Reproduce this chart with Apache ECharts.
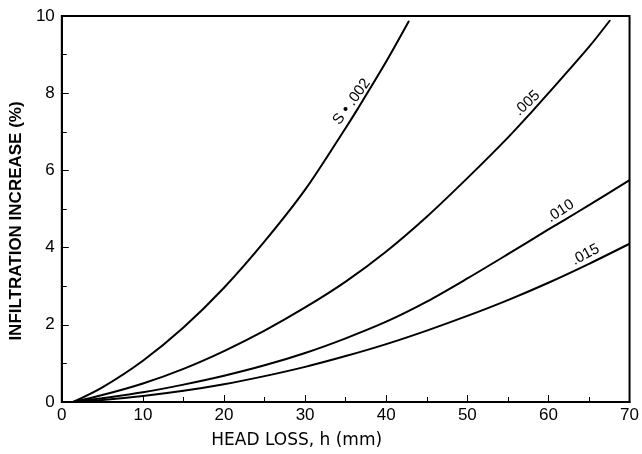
<!DOCTYPE html>
<html>
<head>
<meta charset="utf-8">
<script src="https://cdn.jsdelivr.net/npm/echarts@6/dist/echarts.min.js"></script>
<style>
html, body { margin: 0; padding: 0; background: #fff; }
#chart { width: 642px; height: 454px; }
</style>
</head>
<body>
<div id="chart"></div>
<script>
// head loss h (mm) vs infiltration increase (%), one curve per slope S
var s002 = [[1.4,0],[5,0.38],[10,1.07],[15,1.93],[20,2.96],[25,4.16],[30,5.5],[35,7.1],[36.5,7.6],[40,8.82],[42.8,9.87]];
var s005 = [[1.4,0],[5,0.18],[10,0.48],[15,0.86],[20,1.32],[25,1.85],[30,2.45],[35,3.12],[40,3.9],[45,4.8],[50,5.8],[55,6.85],[58,7.53],[60,8.0],[65,9.2],[67.6,9.89]];
var s010 = [[1.4,0],[5,0.1],[10,0.25],[15,0.45],[20,0.68],[25,0.95],[30,1.27],[35,1.65],[40,2.08],[45,2.6],[50,3.2],[55,3.83],[60,4.47],[62,4.72],[65,5.1],[70,5.75]];
var s015 = [[1.4,0],[5,0.05],[10,0.155],[15,0.29],[20,0.46],[25,0.67],[30,0.91],[35,1.19],[40,1.5],[45,1.85],[50,2.23],[55,2.64],[60,3.09],[65,3.58],[70,4.1]];

// label text, data, h of the point carrying the label, label angle
var curves = [
	['S • .002', s002, 36.5, 54],
	['.005', s005, 58, 43],
	['.010', s010, 62, 33],
	['.015', s015, 65, 28]
];

var xTicks = [0, 10, 20, 30, 40, 50, 60, 70];
var yTicks = [0, 2, 4, 6, 8, 10];

function initChart() {
	var myChart = echarts.init(document.getElementById('chart'));
	var font = 'Liberation Sans';

	var series = curves.map(function(c) {
		var data = c[1].map(function(p) {
			if(p[0] !== c[2]) return p;
			return {
				value: p,
				label: {
					show: true,
					formatter: c[0],
					rotate: c[3],
					position: 'top',
					distance: 2,
					color: '#000',
					fontSize: 15,
					fontFamily: font
				}
			};
		});
		return {
			name: c[0],
			type: 'line',
			smooth: 0.3,
			symbol: 'circle',
			symbolSize: 1,
			itemStyle: { color: '#000' },
			lineStyle: { color: '#000', width: 2 },
			label: { show: false },
			data: data
		};
	});

	var option = {
		animation: false,
		backgroundColor: '#fff',
		grid: {
			left: 54,
			right: 10,
			top: 16,
			bottom: 52,
			show: true,
			borderColor: '#000',
			borderWidth: 2
		},
		xAxis: {
			type: 'value',
			min: 0,
			max: 70,
			interval: 10,
			name: 'HEAD LOSS, h (mm)',
			nameLocation: 'middle',
			nameGap: 30,
			nameTextStyle: { color: '#000', fontSize: 17, fontFamily: 'DejaVu Sans', padding: [0, 98, 0, 0] },
			axisLine: { lineStyle: { color: '#000', width: 2 } },
			axisTick: { inside: true, length: 7, lineStyle: { color: '#000' } },
			minorTick: { show: true, splitNumber: 2, length: 5, lineStyle: { color: '#000' } },
			splitLine: { show: false },
			axisLabel: {
				color: '#000',
				fontSize: 17,
				fontFamily: font,
				margin: 5,
				formatter: function(v) { return xTicks.indexOf(v) >= 0 ? String(v) : ''; }
			}
		},
		yAxis: {
			type: 'value',
			min: 0,
			max: 10,
			interval: 2,
			name: 'INFILTRATION INCREASE (%)',
			nameLocation: 'middle',
			nameGap: 31,
			nameTextStyle: { color: '#000', fontSize: 17, fontFamily: font, fontWeight: 'bold', padding: [0, 24, 0, 0] },
			axisLine: { lineStyle: { color: '#000', width: 2 } },
			axisTick: { inside: true, length: 7, lineStyle: { color: '#000' } },
			minorTick: { show: true, splitNumber: 2, length: 5, lineStyle: { color: '#000' } },
			splitLine: { show: false },
			axisLabel: {
				color: '#000',
				fontSize: 17,
				fontFamily: font,
				margin: 7,
				formatter: function(v) { return yTicks.indexOf(v) >= 0 ? String(v) : ''; }
			}
		},
		series: series
	};

	myChart.setOption(option, true);
}

onload = function() {
	initChart();
};
</script>
</body>
</html>
